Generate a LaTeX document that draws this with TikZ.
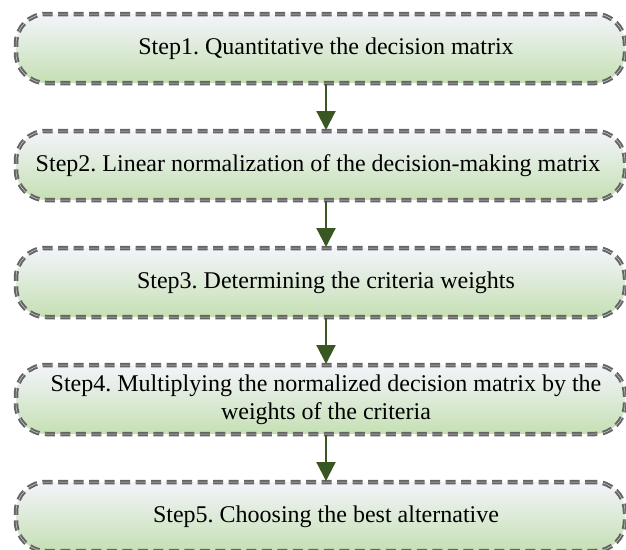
\documentclass[tikz,border=0pt]{standalone}
\usepackage{fontspec}
\setmainfont{Liberation Serif}
\newfontfamily\stepfont{Liberation Serif}
\usetikzlibrary{arrows.meta}
\definecolor{boxtop}{RGB}{243,244,250}
\definecolor{boxbottom}{RGB}{197,224,180}
\definecolor{edgegray}{RGB}{100,100,100}
\definecolor{arrowgreen}{RGB}{56,87,35}
\begin{document}
\frenchspacing
\begin{tikzpicture}[x=1pt,y=-1pt,
  stepbox/.style={rectangle, rounded corners=30pt, minimum width=609pt, minimum height=69pt,
    top color=boxtop, bottom color=boxbottom, draw=edgegray, line width=2pt,
    double=gray!35, double distance=0.5pt, dash pattern=on 10pt off 5.5pt, inner sep=0pt},
  steptext/.style={font=\stepfont\fontsize{24}{28}\selectfont, align=center, inner sep=0pt},
  flow/.style={draw=arrowgreen, line width=2.2pt,
    -{Triangle[length=19pt,width=19pt]}}]
  \useasboundingbox (0,0) rectangle (626,549);

  % the five step boxes
  \node[stepbox] (box1) at (320.5,48.5) {};
  \node[stepbox] (box2) at (320.5,165.5) {};
  \node[stepbox] (box3) at (320.5,282.5) {};
  \node[stepbox] (box4) at (320.5,399.5) {};
  \node[stepbox] (box5) at (320.5,516.5) {};

  % their texts
  \node[steptext] (t1) at (326,48.5) {Step1. Quantitative the decision matrix};
  \node[steptext] (t2) at (318,165.5) {Step2. Linear normalization of the decision-making matrix};
  \node[steptext] (t3) at (326,282.5) {Step3. Determining the criteria weights};
  \node[steptext] (t4) at (326,399.5) {Step4. Multiplying the normalized decision matrix by the\\ weights of the criteria};
  \node[steptext] (t5) at (326,516.5) {Step5. Choosing the best alternative};

  % arrows between consecutive steps
  \coordinate (ax) at (326,0);
  \draw[flow] (ax |- box1.south) -- (ax |- box2.north);
  \draw[flow] (ax |- box2.south) -- (ax |- box3.north);
  \draw[flow] (ax |- box3.south) -- (ax |- box4.north);
  \draw[flow] (ax |- box4.south) -- (ax |- box5.north);
\end{tikzpicture}
\end{document}
